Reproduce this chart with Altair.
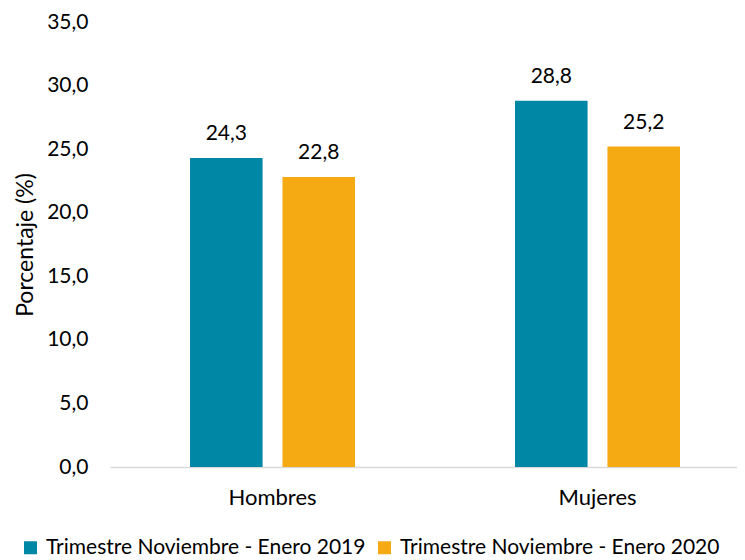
import altair as alt
import pandas as pd

categorias = ["Hombres", "Mujeres"]
series = ["Trimestre Noviembre - Enero 2019", "Trimestre Noviembre - Enero 2020"]
valores_2019 = [24.3, 28.8]
valores_2020 = [22.8, 25.2]
colores = ["#0087A6", "#F5AA14"]

rows = []
for i, c in enumerate(categorias):
    rows.append({"cat": c, "serie": series[0], "valor": valores_2019[i]})
    rows.append({"cat": c, "serie": series[1], "valor": valores_2020[i]})
df = pd.DataFrame(rows)
df["etiqueta"] = df["valor"].map(lambda v: f"{v:.1f}".replace(".", ","))

FONT = "Lato"

x = alt.X("cat:N", sort=categorias, title=None,
          scale=alt.Scale(paddingInner=0.4923, paddingOuter=0.2108, align=0.584),
          axis=alt.Axis(labelAngle=0, labelFontSize=22, labelColor="#000000",
                        labelPadding=20, ticks=False, domainColor="#D9D9D9",
                        domainWidth=1.5, labelFont=FONT))
xo = alt.XOffset("serie:N", sort=series,
                 scale=alt.Scale(paddingInner=0.215, paddingOuter=0))
y = alt.Y("valor:Q", title="Porcentaje (%)",
          scale=alt.Scale(domain=[0, 35], nice=False),
          axis=alt.Axis(values=[0, 5, 10, 15, 20, 25, 30, 35],
                        labelExpr="replace(format(datum.value, '.1f'), '.', ',')",
                        grid=False, ticks=False, domain=False,
                        labelFontSize=21, labelColor="#000000", labelPadding=22,
                        titleFontSize=23, titleColor="#000000", titleFontWeight="normal",
                        titlePadding=9, labelFont=FONT, titleFont=FONT))

bars = alt.Chart(df).mark_bar().encode(
    x=x, xOffset=xo, y=y,
    color=alt.Color("serie:N", sort=series,
                    scale=alt.Scale(domain=series, range=colores),
                    legend=alt.Legend(title=None, orient="none", direction="horizontal",
                                      legendX=-90, legendY=515,
                                      symbolType="square", symbolSize=169,
                                      symbolStrokeWidth=0, labelFontSize=21,
                                      labelOffset=5, labelColor="#000000",
                                      labelFont=FONT, columnPadding=8,
                                      labelLimit=400, padding=0))
)

text = alt.Chart(df).mark_text(dy=-24, fontSize=21, color="#000000", font=FONT).encode(
    x=alt.X("cat:N", sort=categorias), xOffset=xo, y="valor:Q", text="etiqueta:N"
)

chart = alt.layer(bars, text).properties(
    width=627, height=445,
    autosize=alt.AutoSizeParams(type="none"),
    padding={"left": 102, "top": 14, "right": 0, "bottom": 93},
).configure_view(stroke=None)

chart.save("out.html", embed_options={"renderer": "svg", "actions": False})
